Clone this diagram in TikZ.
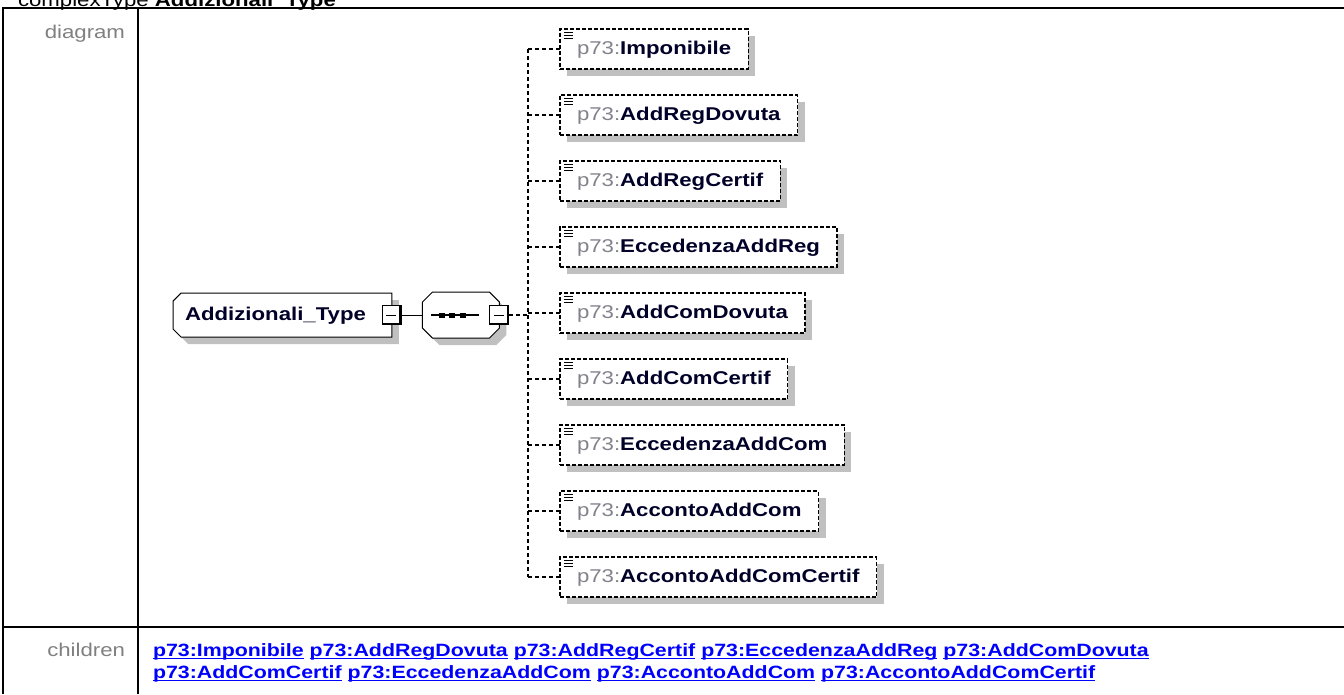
\documentclass[tikz,border=0pt]{standalone}
\usepackage{fontspec}
\setmainfont[FakeStretch=1.2]{Liberation Sans}
\usepackage{xcolor}
\usetikzlibrary{positioning,shadows,backgrounds}

\definecolor{labelgray}{RGB}{128,128,128}
\definecolor{prefixgray}{RGB}{130,130,140}
\definecolor{shadowgray}{RGB}{192,192,192}
\definecolor{linkblue}{RGB}{0,0,255}
\definecolor{namecol}{RGB}{0,0,40}

\newcommand{\childlink}[1]{\setbox0\hbox{#1}\rlap{\rule[-3pt]{\wd0}{1.5pt}}\box0\relax}
\newcommand{\elname}[1]{\textcolor{prefixgray}{p73:}\textcolor{namecol}{\textbf{#1}}}

\tikzset{
  every node/.style={font=\fontsize{18.5pt}{22pt}\selectfont,outer sep=0pt},
  rule/.style={line width=2.5pt},
  rowlabel/.style={anchor=base east,inner sep=0pt,text=labelgray},
  linkrow/.style={anchor=base west,inner sep=0pt,text=linkblue,font=\fontsize{17.8pt}{22pt}\selectfont\bfseries},
  shade7/.style={drop shadow={shadow xshift=7pt,shadow yshift=-7pt,fill=shadowgray,opacity=1}},
  outline/.style={draw,line width=1pt,fill=white,shade7},
  typebox/.style={rectangle,minimum height=44pt,inner xsep=12pt,text height=13pt,text depth=3pt,
    text=namecol,font=\fontsize{18.5pt}{22pt}\selectfont\bfseries},
  seqbox/.style={rectangle,minimum width=77pt,minimum height=46pt,inner sep=0pt},
  collapse/.style={rectangle,draw,line width=1pt,fill=white,minimum size=19pt,inner sep=0pt,
    path picture={
      \draw[line width=4pt] (path picture bounding box.north east) -- (path picture bounding box.south east) -- (path picture bounding box.south west);
      \draw[line width=1pt] ([xshift=4pt]path picture bounding box.west) -- ([xshift=-5pt]path picture bounding box.east);
    }},
  childbox/.style={rectangle,draw,dash pattern=on 4pt off 2pt,line width=1.2pt,fill=white,
    minimum height=40pt,inner xsep=17pt,text height=13pt,text depth=3pt,anchor=west,shade7,
    path picture={
      \draw[line width=1pt,solid] ([xshift=4pt,yshift=-3pt]path picture bounding box.north west) -- ++(9pt,0pt);
      \draw[line width=1pt,solid] ([xshift=4pt,yshift=-6pt]path picture bounding box.north west) -- ++(9pt,0pt);
      \draw[line width=1pt,solid] ([xshift=4pt,yshift=-9pt]path picture bounding box.north west) -- ++(9pt,0pt);
    }},
  link/.style={line width=1pt},
  optlink/.style={line width=1.2pt,dash pattern=on 4pt off 3pt}
}

\begin{document}
\begin{tikzpicture}[x=1pt,y=-1pt]
  \useasboundingbox (0,0) rectangle (1344,694);

  % Title and table
  \node[anchor=base west,inner sep=0pt] (title) at (18,6) {complexType \textbf{Addizionali\_Type}};
  \draw[rule] (2,8) -- (1344,8);
  \draw[rule] (3,8) -- (3,694);
  \draw[rule] (138,8) -- (138,694);
  \draw[rule] (2,627) -- (1344,627);
  \node[rowlabel] (diaglabel) at (125,38) {diagram};
  \node[rowlabel] (childlabel) at (125,656) {children};

  % Root type
  \node[typebox] (root) at (282.5,315) {Addizionali\_Type\kern14pt};
  \begin{scope}[on background layer]
    \draw[outline] ([xshift=8pt]root.north west) -- (root.north east) -- (root.south east)
      -- ([xshift=8pt]root.south west) -- ([yshift=8pt]root.south west)
      -- ([yshift=-8pt]root.north west) -- cycle;
  \end{scope}
  \node[collapse] (rootm) at (root.east) {};

  % Sequence
  \node[seqbox,right=21pt of rootm] (seq) {};
  \begin{scope}[on background layer]
    \draw[outline] ([xshift=10pt]seq.north west) -- ([xshift=-10pt]seq.north east)
      -- ([yshift=-10pt]seq.north east) -- ([yshift=10pt]seq.south east)
      -- ([xshift=-10pt]seq.south east) -- ([xshift=10pt]seq.south west)
      -- ([yshift=10pt]seq.south west) -- ([yshift=-10pt]seq.north west) -- cycle;
  \end{scope}
  \draw[line width=1.2pt] ([xshift=9pt]seq.west) -- ([xshift=57pt]seq.west);
  \fill ([xshift=17pt,yshift=-2.5pt]seq.west) rectangle ++(6pt,5pt);
  \fill ([xshift=27pt,yshift=-2.5pt]seq.west) rectangle ++(6pt,5pt);
  \fill ([xshift=38pt,yshift=-2.5pt]seq.west) rectangle ++(6pt,5pt);
  \node[collapse] (seqm) at (seq.east) {};
  \coordinate[right=19pt of seqm] (spine);
  \draw[link] (rootm) -- (seq);
  \draw[optlink] (seqm) -- (spine);

  % Child 1
  \node[childbox] (c1) at (560,49) {\elname{Imponibile}};

  % Child 2
  \node[childbox,below right=26pt and 0pt of c1.south west] (c2) {\elname{AddRegDovuta}};

  % Child 3
  \node[childbox,below right=26pt and 0pt of c2.south west] (c3) {\elname{AddRegCertif}};

  % Child 4
  \node[childbox,below right=26pt and 0pt of c3.south west] (c4) {\elname{EccedenzaAddReg}};

  % Child 5
  \node[childbox,below right=26pt and 0pt of c4.south west] (c5) {\elname{AddComDovuta}};

  % Child 6
  \node[childbox,below right=26pt and 0pt of c5.south west] (c6) {\elname{AddComCertif}};

  % Child 7
  \node[childbox,below right=26pt and 0pt of c6.south west] (c7) {\elname{EccedenzaAddCom}};

  % Child 8
  \node[childbox,below right=26pt and 0pt of c7.south west] (c8) {\elname{AccontoAddCom}};

  % Child 9
  \node[childbox,below right=26pt and 0pt of c8.south west] (c9) {\elname{AccontoAddComCertif}};

  % Spine and branches
  \draw[optlink] (spine |- c1) -- (spine |- c9);
  \draw[optlink] (spine |- c1) -- (c1);
  \draw[optlink] (spine |- c2) -- (c2);
  \draw[optlink] (spine |- c3) -- (c3);
  \draw[optlink] (spine |- c4) -- (c4);
  \draw[optlink] (spine |- c5) -- (c5);
  \draw[optlink] (spine |- c6) -- (c6);
  \draw[optlink] (spine |- c7) -- (c7);
  \draw[optlink] (spine |- c8) -- (c8);
  \draw[optlink] (spine |- c9) -- (c9);

  % Children links
  \node[linkrow] (links1) at (153,656) {\childlink{p73:Imponibile} \childlink{p73:AddRegDovuta} \childlink{p73:AddRegCertif} \childlink{p73:EccedenzaAddReg} \childlink{p73:AddComDovuta}};
  \node[linkrow] (links2) at (153,678) {\childlink{p73:AddComCertif} \childlink{p73:EccedenzaAddCom} \childlink{p73:AccontoAddCom} \childlink{p73:AccontoAddComCertif}};

\end{tikzpicture}
\end{document}
